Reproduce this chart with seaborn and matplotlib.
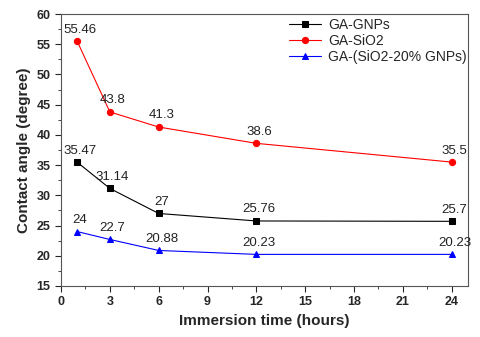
import numpy as np
import matplotlib
matplotlib.use("Agg")
import matplotlib.pyplot as plt
import seaborn as sns
import pandas as pd
from matplotlib.ticker import MultipleLocator

hours = [1, 3, 6, 12, 24]
gnps = [35.47, 31.14, 27, 25.76, 25.7]
sio2 = [55.46, 43.8, 41.3, 38.6, 35.5]
mix = [24, 22.7, 20.88, 20.23, 20.23]
gnps_lbl = ["35.47", "31.14", "27", "25.76", "25.7"]
sio2_lbl = ["55.46", "43.8", "41.3", "38.6", "35.5"]
mix_lbl = ["24", "22.7", "20.88", "20.23", "20.23"]

sns.set_style("ticks")
plt.rcParams["font.family"] = ["Liberation Sans", "DejaVu Sans"]

fig = plt.figure(figsize=(4.8, 3.37), dpi=100)
ax = fig.add_axes([61/480, 1-286/337, (468-61)/480, (286-14)/337])

series = [("GA-GNPs", gnps, gnps_lbl, "black", "s", 4.5),
          ("GA-SiO2", sio2, sio2_lbl, "red", "o", 4.5),
          ("GA-(SiO2-20% GNPs)", mix, mix_lbl, "blue", "^", 5)]
for name, vals, lbls, col, mk, ms in series:
    df = pd.DataFrame({"x": hours, "y": vals})
    sns.lineplot(data=df, x="x", y="y", ax=ax, color=col, marker=mk, markersize=ms,
                 markeredgecolor=col, linewidth=0.8, label=name)
    for xv, yv, t in zip(hours, vals, lbls):
        ax.annotate(t, (xv, yv), xytext=(2, 4), textcoords="offset points",
                    ha="center", va="bottom", fontsize=9.5, color="#222222")

ax.set_xlim(0, 25)
ax.set_ylim(15, 60)
ax.xaxis.set_major_locator(MultipleLocator(3))
ax.xaxis.set_minor_locator(MultipleLocator(1.5))
ax.yaxis.set_major_locator(MultipleLocator(5))
ax.yaxis.set_minor_locator(MultipleLocator(2.5))
ax.tick_params(which="major", length=4, width=0.8, labelsize=9, direction="out")
ax.tick_params(which="minor", length=2, width=0.6, direction="out")
for lab in ax.get_xticklabels() + ax.get_yticklabels():
    lab.set_fontweight("bold")
for s in ax.spines.values():
    s.set_visible(True)
    s.set_color("#555555")
    s.set_linewidth(0.8)

ax.set_xlabel("Immersion time (hours)", fontsize=11, fontweight="bold", labelpad=4)
ax.set_ylabel("Contact angle (degree)", fontsize=11, fontweight="bold", labelpad=4)
ax.legend(loc="upper left", frameon=False, fontsize=10, handlelength=2.3,
          handletextpad=0.5, borderaxespad=0, borderpad=0, labelspacing=0.15,
          bbox_to_anchor=(0.56, 0.985))

fig.savefig("out.png", dpi=100)
